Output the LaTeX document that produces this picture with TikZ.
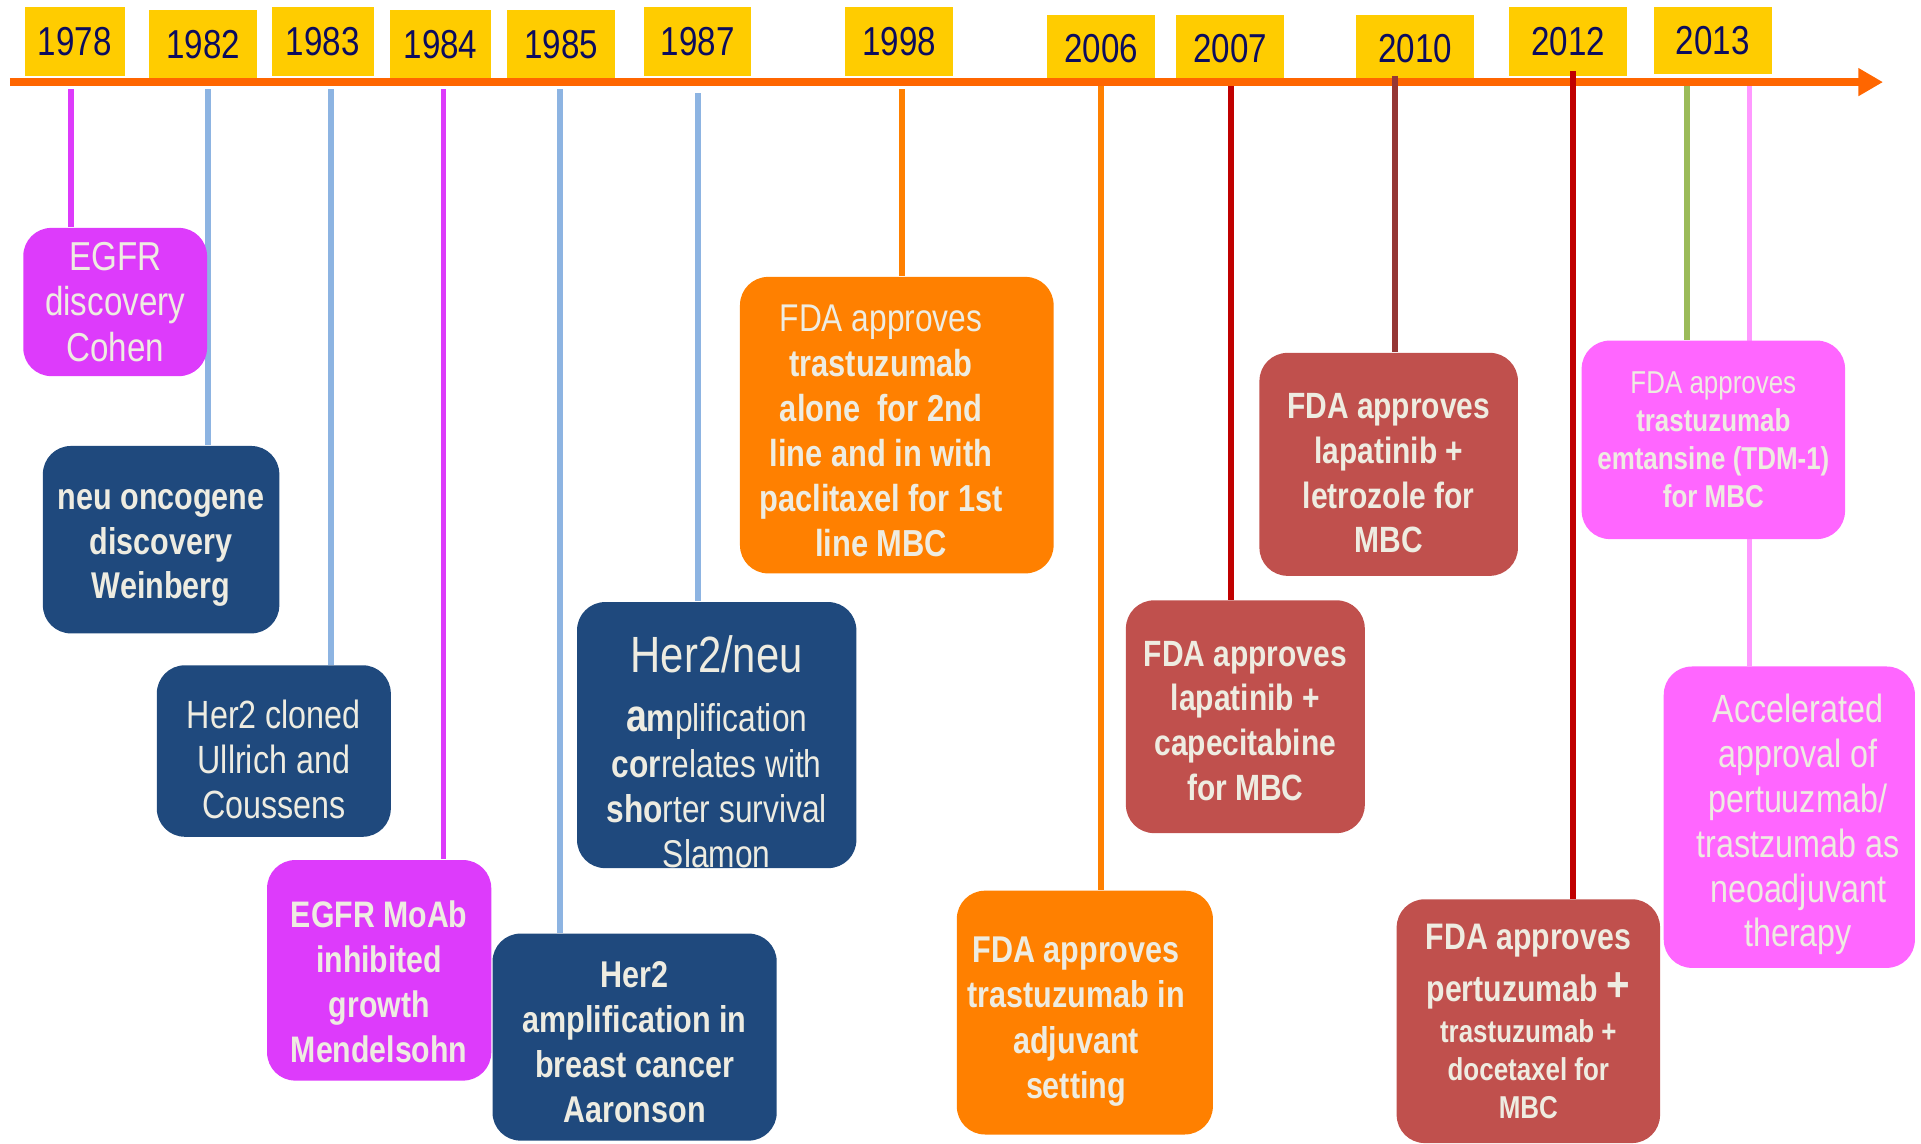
\documentclass[tikz,border=0pt]{standalone}
\usepackage{fontspec}
\setmainfont{Liberation Sans}[FakeStretch=0.82]
\usetikzlibrary{arrows.meta,backgrounds}

\definecolor{yearbg}{HTML}{FFCC00}
\definecolor{yeartext}{HTML}{0C0C5E}
\definecolor{axisorange}{HTML}{FF6600}
\definecolor{egfrpink}{HTML}{DD3BFB}
\definecolor{her2navy}{HTML}{1F497D}
\definecolor{fdaorange}{HTML}{FF8000}
\definecolor{fdared}{HTML}{C0504D}
\definecolor{fdapink}{HTML}{FF66FF}
\definecolor{cream}{HTML}{EEECE1}
\definecolor{lineblue}{HTML}{8DB4E2}
\definecolor{linered}{HTML}{C00000}
\definecolor{linebrown}{HTML}{953735}
\definecolor{linegreen}{HTML}{9BBB59}
\definecolor{linepink}{HTML}{FF99FF}

\newcommand{\pxu}{0.012251cm}
\newcommand{\fsz}[2]{\fontsize{#1}{#2}\selectfont}
\newcommand{\pad}[1]{\rule{#1}{0pt}}

\begin{document}
\begin{tikzpicture}[
    x=\pxu, y=-\pxu,
    year/.style 2 args={rectangle, fill=yearbg, text=yeartext, minimum width=#1*\pxu, minimum height=#2*\pxu, inner sep=0pt, font=\fsz{11.5}{13}},
    event/.style 2 args={rectangle, rounded corners=8pt, text=cream, align=center, inner sep=0pt, minimum width=#1*\pxu, minimum height=#2*\pxu},
    link/.style={line width=1.7pt},
    axis/.style={-{Triangle[length=7pt,width=7.5pt]}, line width=2.2pt, axisorange}
]
\useasboundingbox (0,0) rectangle (1568,933);

% Years
\node[year={82}{56}] (y1978) at (61,34) {1978};
\node[year={88}{56}] (y1982) at (166,36) {1982};
\node[year={83}{56}] (y1983) at (263.5,34) {1983};
\node[year={83}{56}] (y1984) at (359.5,36) {1984};
\node[year={88}{56}] (y1985) at (458,36) {1985};
\node[year={87}{56}] (y1987) at (569.5,34) {1987};
\node[year={88}{56}] (y1998) at (734,34) {1998};
\node[year={88}{56}] (y2006) at (899,40) {2006};
\node[year={88}{56}] (y2007) at (1004,40) {2007};
\node[year={96}{56}] (y2010) at (1155,40) {2010};
\node[year={96}{56}] (y2012) at (1280,34) {2012};
\node[year={96}{54}] (y2013) at (1398,33) {2013};

% Time axis
\coordinate (axstart) at (8,67);
\coordinate (axend) at (1537,67);
\draw[axis] (axstart) -- (axend);

% Tick tops
\coordinate (t78) at (58,73);
\coordinate (t82) at (170,73);
\coordinate (t83) at (270,73);
\coordinate (t84) at (362,73);
\coordinate (t85) at (457,73);
\coordinate (t87) at (570,76);
\coordinate (t98) at (736,73);
\coordinate (t06) at (899,70);
\coordinate (t07) at (1005,70);
\coordinate (t10) at (1139,62);
\coordinate (t12) at (1284,58);
\coordinate (t13a) at (1377,68);
\coordinate (t13b) at (1428,66);

% Discoveries
\node[event={150}{121}, fill=egfrpink, font=\fsz{11.5}{12.9}] (egfr) at (94,246.5) {EGFR\\discovery\\Cohen};
\node[event={193}{153}, fill=her2navy, font=\bfseries\fsz{10.6}{12.7}] (neu) at (131.5,440.5) {\rule{0pt}{10.4pt}neu oncogene\\discovery\\Weinberg};
\node[event={191}{140}, fill=her2navy, font=\fsz{11.2}{12.8}] (cloned) at (223.5,613) {\rule{0pt}{13pt}Her2 cloned\\Ullrich and\\Coussens};
\node[event={183}{180}, fill=egfrpink, font=\bfseries\fsz{10.5}{12.8}] (moab) at (309.5,792) {\rule{0pt}{14pt}EGFR MoAb\\inhibited\\growth\\Mendelsohn};
\node[event={232}{169}, fill=her2navy, font=\bfseries\fsz{10.6}{12.8}] (aaronson) at (518,846.5) {\rule{0pt}{10.4pt}Her2\\amplification in\\breast cancer\\Aaronson};
\node[event={228}{212}, fill=her2navy, font=\fsz{11}{12.9}] (slamon) at (585,600)
  {\rule{0pt}{20pt}{\fsz{14.5}{16}Her2/neu}\\[4pt]{\bfseries\fsz{13}{13}a}{\bfseries m}plification\\{\bfseries cor}relates with\\{\bfseries sho}rter survival\\Slamon};

% FDA approvals
\node[event={256}{242}, fill=fdaorange, font=\bfseries\fsz{10.7}{12.8}] (fda98) at (732,347)
  {\rule{0pt}{10.7pt}{\mdseries\fsz{11}{12.8}FDA approves}\pad{9pt}\\trastuzumab\pad{9pt}\\alone~ for 2nd\pad{9pt}\\line and in with\pad{9pt}\\paclitaxel for 1st\pad{9pt}\\line MBC\pad{9pt}};
\node[event={209}{199}, fill=fdaorange, font=\bfseries\fsz{10.6}{12.9}] (adjuvant) at (885.5,826.5)
  {\rule{0pt}{12.5pt}FDA approves\pad{5pt}\\trastuzumab in\pad{5pt}\\adjuvant\pad{5pt}\\setting\pad{5pt}};
\node[event={195}{190}, fill=fdared, font=\bfseries\fsz{10.4}{12.7}] (capecit) at (1016.5,585) {\rule{0pt}{9.5pt}FDA approves\\lapatinib +\\capecitabine\\for MBC};
\node[event={211}{182}, fill=fdared, font=\bfseries\fsz{10.4}{12.7}] (letroz) at (1133.5,379) {\rule{0pt}{12.3pt}FDA approves\\lapatinib +\\letrozole for\\MBC};
\node[event={215}{199}, fill=fdared, font=\bfseries\fsz{9}{10.8}] (pertuz) at (1247.5,833.5)
  {{\fsz{10.5}{12}FDA approves}\\[4pt]{\fsz{10.5}{12}pertuzumab {\fsz{14}{14}+}}\\[1pt]trastuzumab +\\docetaxel for\\MBC};
\node[event={215}{162}, fill=fdapink, font=\bfseries\fsz{9}{10.8}] (tdm) at (1398.5,359)
  {{\mdseries FDA approves}\\trastuzumab\\emtansine (TDM-1)\\for MBC};
\node[event={205}{246}, fill=fdapink, font=\fsz{11.2}{12.75}] (accel) at (1460.5,667)
  {\rule{0pt}{12.4pt}\pad{5pt}Accelerated\\\pad{5pt}approval of\\\pad{5pt}pertuuzmab/\\\pad{5pt}trastzumab as\\\pad{5pt}neoadjuvant\\\pad{5pt}therapy};

% Connectors
\begin{scope}[on background layer]
\draw[link, egfrpink] (t78) -- (t78 |- egfr.north);
\draw[link, lineblue] (t82) -- (t82 |- neu.north);
\draw[link, lineblue] (t83) -- (t83 |- cloned.north);
\draw[link, egfrpink] (t84) -- (t84 |- moab.north);
\draw[link, lineblue] (t85) -- (t85 |- aaronson.north);
\draw[link, lineblue] (t87) -- (t87 |- slamon.north);
\draw[link, fdaorange] (t98) -- (t98 |- fda98.north);
\draw[link, fdaorange] (t06) -- (t06 |- adjuvant.north);
\draw[link, linered] (t07) -- (t07 |- capecit.north);
\draw[link, linegreen] (t13a) -- (t13a |- tdm.north);
\draw[link, linepink] (t13b) -- (t13b |- accel.north);
\end{scope}
\draw[link, linebrown] (t10) -- (t10 |- letroz.north);
\draw[link, linered] (t12) -- (t12 |- pertuz.north);
\end{tikzpicture}
\end{document}
